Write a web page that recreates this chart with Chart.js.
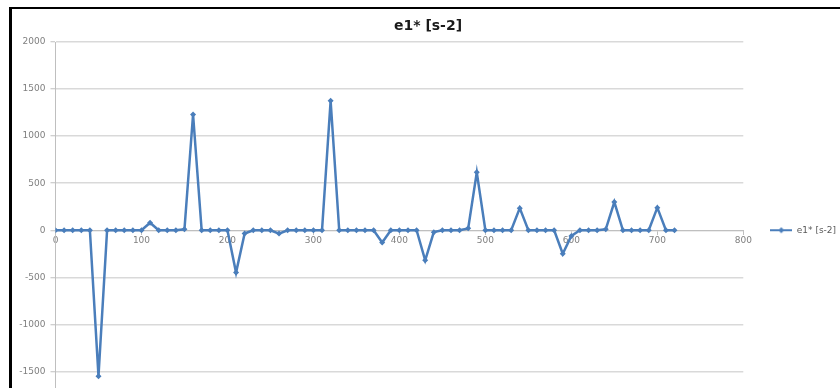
<!DOCTYPE html>
<html>
<head>
<meta charset="utf-8">
<script src="https://cdn.jsdelivr.net/npm/chart.js@4/dist/chart.umd.min.js"></script>
<style>
  html, body { margin: 0; padding: 0; background: #fff; overflow: hidden; }
  #wrap { position: relative; width: 840px; height: 388px; overflow: hidden; background: #fff; }
  #c { position: absolute; left: 0; top: 0; }
  .frame-top { position: absolute; left: 9px; top: 7px; width: 831px; height: 2px; background: #000; }
  .frame-left { position: absolute; left: 9px; top: 7px; width: 3px; height: 381px; background: #000; }
</style>
</head>
<body>
<div id="wrap">
  <canvas id="c" width="840" height="440"></canvas>
  <div class="frame-top"></div>
  <div class="frame-left"></div>
</div>
<script>
// Series name (also used as chart title)
const seriesName = 'e1* [s-2]';

// Sample positions along the x axis
const xValues = [
  0, 10, 20, 30, 40, 50, 60, 70, 80, 90,
  100, 110, 120, 130, 140, 150, 160, 170, 180, 190,
  200, 210, 220, 230, 240, 250, 260, 270, 280, 290,
  300, 310, 320, 330, 340, 350, 360, 370, 380, 390,
  400, 410, 420, 430, 440, 450, 460, 470, 480, 490,
  500, 510, 520, 530, 540, 550, 560, 570, 580, 590,
  600, 610, 620, 630, 640, 650, 660, 670, 680, 690,
  700, 710, 720
];

// e1* values [s-2]
const e1Values = [
  0, 0, 0, 0, 0, -1550, 0, 0, 0, 0,
  0, 80, 0, 0, 0, 10, 1230, 0, 0, 0,
  0, -450, -35, 0, 0, 0, -35, 0, 0, 0,
  0, 0, 1375, 0, 0, 0, 0, 0, -130, 0,
  0, 0, 0, -320, -20, 0, 0, 0, 20, 615,
  0, 0, 0, 0, 235, 0, 0, 0, 0, -250,
  -60, 0, 0, 0, 10, 300, 0, 0, 0, 0,
  240, 0, 0
];

// Axis tick labels
const xTicks = [0, 100, 200, 300, 400, 500, 600, 700, 800];
const yTicks = [-2000, -1500, -1000, -500, 0, 500, 1000, 1500, 2000];

const lineColor = '#4a7ebb';
const tickFont = { family: 'DejaVu Sans', size: 9 };
const plainNumber = (v) => String(v);

// Legend symbol: short line with a diamond marker
const legendIcon = document.createElement('canvas');
legendIcon.width = 22;
legendIcon.height = 8;
(function () {
  const g = legendIcon.getContext('2d');
  g.strokeStyle = lineColor;
  g.lineWidth = 2;
  g.beginPath();
  g.moveTo(0, 4);
  g.lineTo(22, 4);
  g.stroke();
  g.fillStyle = lineColor;
  g.beginPath();
  g.moveTo(11, 1);
  g.lineTo(14, 4);
  g.lineTo(11, 7);
  g.lineTo(8, 4);
  g.closePath();
  g.fill();
})();

const points = xValues.map((x, i) => ({ x: x, y: e1Values[i] }));

new Chart(document.getElementById('c'), {
  type: 'line',
  data: {
    datasets: [{
      label: seriesName,
      data: points,
      borderColor: lineColor,
      backgroundColor: lineColor,
      borderWidth: 2.5,
      pointStyle: 'rectRot',
      pointRadius: 3,
      pointBorderWidth: 0,
      pointBackgroundColor: lineColor,
      tension: 0,
      fill: false
    }]
  },
  options: {
    responsive: false,
    animation: false,
    devicePixelRatio: 1,
    layout: { padding: { left: 16, right: 0, top: 0, bottom: 21.5 } },
    plugins: {
      tooltip: { enabled: false },
      title: {
        display: true,
        text: seriesName,
        color: '#1a1a1a',
        font: { family: 'DejaVu Sans', size: 14, weight: 'bold' },
        padding: { top: 17.6, bottom: 7.6 }
      },
      legend: {
        display: true,
        position: 'right',
        fullSize: false,
        maxWidth: 96.7,
        labels: {
          usePointStyle: true,
          pointStyle: legendIcon,
          pointStyleWidth: 22,
          padding: 27,
          color: '#595959',
          font: { family: 'DejaVu Sans', size: 9 }
        }
      }
    },
    scales: {
      x: {
        type: 'linear',
        position: { y: 0 },
        min: 0,
        max: 800,
        afterBuildTicks: (scale) => { scale.ticks = xTicks.map(v => ({ value: v })); },
        grid: { display: true, drawOnChartArea: false, drawTicks: true, tickLength: 4, color: '#bfbfbf', tickColor: '#bfbfbf' },
        border: { display: true, color: '#bfbfbf', width: 1 },
        ticks: { color: '#7f7f7f', font: tickFont, padding: 1, maxRotation: 0, autoSkip: false, callback: plainNumber }
      },
      y: {
        type: 'linear',
        min: -2000,
        max: 2000,
        afterBuildTicks: (scale) => { scale.ticks = yTicks.map(v => ({ value: v })); },
        afterFit: (scale) => { scale.width = 39.5; },
        grid: { color: '#d9d9d9', lineWidth: 1.5, tickLength: 5, tickColor: '#bfbfbf', tickWidth: 1 },
        border: { display: true, color: '#bfbfbf', width: 1 },
        ticks: { color: '#7f7f7f', font: tickFont, padding: 5, autoSkip: false, callback: plainNumber }
      }
    }
  }
});
</script>
</body>
</html>
